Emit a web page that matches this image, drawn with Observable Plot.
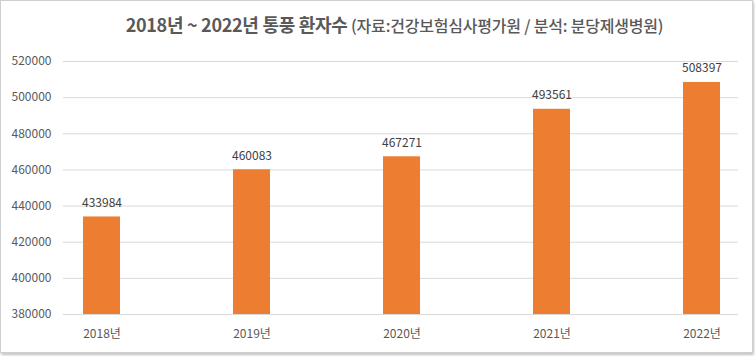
<!DOCTYPE html>
<html><head><meta charset="utf-8">
<script src="https://cdn.jsdelivr.net/npm/d3@7"></script>
<script src="https://cdn.jsdelivr.net/npm/@observablehq/plot@0.6"></script>
<style>
body{margin:0;background:#fff;font-family:"Noto Sans CJK KR","Noto Sans",sans-serif;}
#wrap{position:relative;width:755px;height:356px;overflow:hidden;background:#fff;}
#border{position:absolute;left:0;top:0;width:751px;height:351px;border:1px solid #cfcfcf;box-shadow:1px 2px 3px rgba(0,0,0,0.25);pointer-events:none;}
#title{position:absolute;left:0;width:721px;padding-left:34px;top:11px;text-align:center;color:#595959;white-space:nowrap;line-height:26px;}
#title .main{font-size:18px;font-weight:bold;letter-spacing:-0.3px;}
#title .sub{font-size:16px;font-weight:500;letter-spacing:-0.2px;}
#chart{position:absolute;left:0;top:50px;}
</style></head>
<body><div id="wrap"><div id="border"></div>
<div id="title"><span class="main">2018년 ~ 2022년 통풍 환자수</span> <span class="sub">(자료:건강보험심사평가원 / 분석: 분당제생병원)</span></div>
<div id="chart"></div></div>
<script>
const years = ["2018년","2019년","2020년","2021년","2022년"];
const patients = [433984, 460083, 467271, 493561, 508397];
const yTicks = [380000, 400000, 420000, 440000, 460000, 480000, 500000, 520000];

const data = years.map((y, i) => ({year: y, value: patients[i]}));
const base = yTicks[0];

const chart = Plot.plot({
  width: 755,
  height: 306,
  marginTop: 11,
  marginBottom: 42,
  marginLeft: 63,
  marginRight: 17,
  style: {fontFamily: '"Noto Sans CJK KR","Noto Sans",sans-serif', fontSize: "12px", color: "#595959", background: "transparent"},
  x: {type: "band", domain: years, range: [25.4, 776.6], paddingInner: 0.754, paddingOuter: 0.377, label: null, tickSize: 0, tickPadding: 15},
  y: {domain: [base, yTicks[yTicks.length - 1]], ticks: yTicks, tickFormat: d => String(d), label: null, tickSize: 0, tickPadding: 12},
  marks: [
    Plot.ruleY(yTicks, {stroke: "#d9d9d9", strokeWidth: 1}),
    Plot.barY(data, {x: "year", y1: base, y2: "value", fill: "#ED7D31"}),
    Plot.text(data, {x: "year", y: "value", text: d => String(d.value), dy: -10, lineAnchor: "bottom", fill: "#404040", fontSize: 12})
  ]
});
document.getElementById("chart").appendChild(chart);
</script></body></html>
